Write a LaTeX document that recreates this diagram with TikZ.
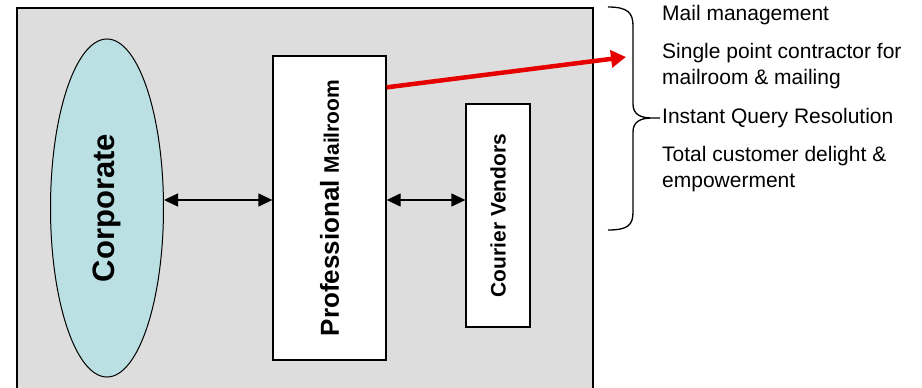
\documentclass[tikz,border=0pt]{standalone}
\usepackage{fontspec}
\setmainfont{Liberation Sans}
\usepackage{graphicx}
\usetikzlibrary{shapes.geometric,arrows.meta,calc}
\definecolor{panelgray}{RGB}{221,221,221}
\definecolor{corpcyan}{RGB}{186,224,227}
\definecolor{arrowred}{RGB}{230,0,0}
\tikzset{
  box/.style={draw=black,line width=1.3pt,fill=white,rectangle,inner sep=0pt},
  twoway/.style={{Triangle[length=14pt,width=13pt]}-{Triangle[length=14pt,width=13pt]},line width=1.3pt},
  listtext/.style={anchor=west,align=left,inner sep=0pt,font=\fontsize{21}{26}\selectfont},
}
\begin{document}
\begin{tikzpicture}[x=1pt,y=-1pt]
\useasboundingbox (0,0) rectangle (922,388);
% panel
\fill[panelgray] (17,8) rectangle (593,392);
\draw[line width=1.5pt] (17,392) -- (17,8) -- (593,8) -- (593,392);
% nodes
\node[ellipse,draw=black,line width=1pt,fill=corpcyan,minimum width=113pt,minimum height=338pt,inner sep=0pt] (corp) at (107,208)
  {\rotatebox{90}{\fontsize{31}{31}\selectfont\bfseries Corporate}};
\node[box,minimum width=113pt,minimum height=304pt] (mail) at (329.5,208)
  {\rotatebox{90}{\bfseries\fontsize{26}{26}\selectfont Professional \fontsize{21}{21}\selectfont Mailroom}};
\node[box,minimum width=64pt,minimum height=223pt] (cour) at (498,215.5)
  {\rotatebox{90}{\bfseries\fontsize{21}{21}\selectfont Courier Vendors}};
% connectors
\draw[twoway] ([yshift=8pt]corp.east) -- ([yshift=8pt]corp.east -| mail.west);
\draw[twoway] ([yshift=8pt]mail.east) -- ([yshift=8pt]mail.east -| cour.west);
\coordinate (redtip) at (626,57);
\draw[arrowred,line width=4.5pt,-{Triangle[length=15pt,width=17pt]}] ([yshift=-32pt]mail.north east) -- (redtip);
% brace
\coordinate (bracetip) at (660,118);
\draw[line width=1.3pt] (608,7) .. controls (628,7) and (633,13) .. (633,26) -- (633,104)
  .. controls (633,114) and (640,118) .. (652,118) -- (bracetip)
  (652,118) .. controls (640,118) and (633,122) .. (633,132) -- (633,212)
  .. controls (633,225) and (628,230) .. (608,230);
% list
\node[listtext] (mailmgmt) at (662,15) {Mail management};
\node[listtext] (single) at (662,66.5) {Single point contractor for\\mailroom \& mailing};
\node[listtext] (instant) at (662,118) {Instant Query Resolution};
\node[listtext] (total) at (662,169.5) {Total customer delight \&\\empowerment};
\end{tikzpicture}
\end{document}
